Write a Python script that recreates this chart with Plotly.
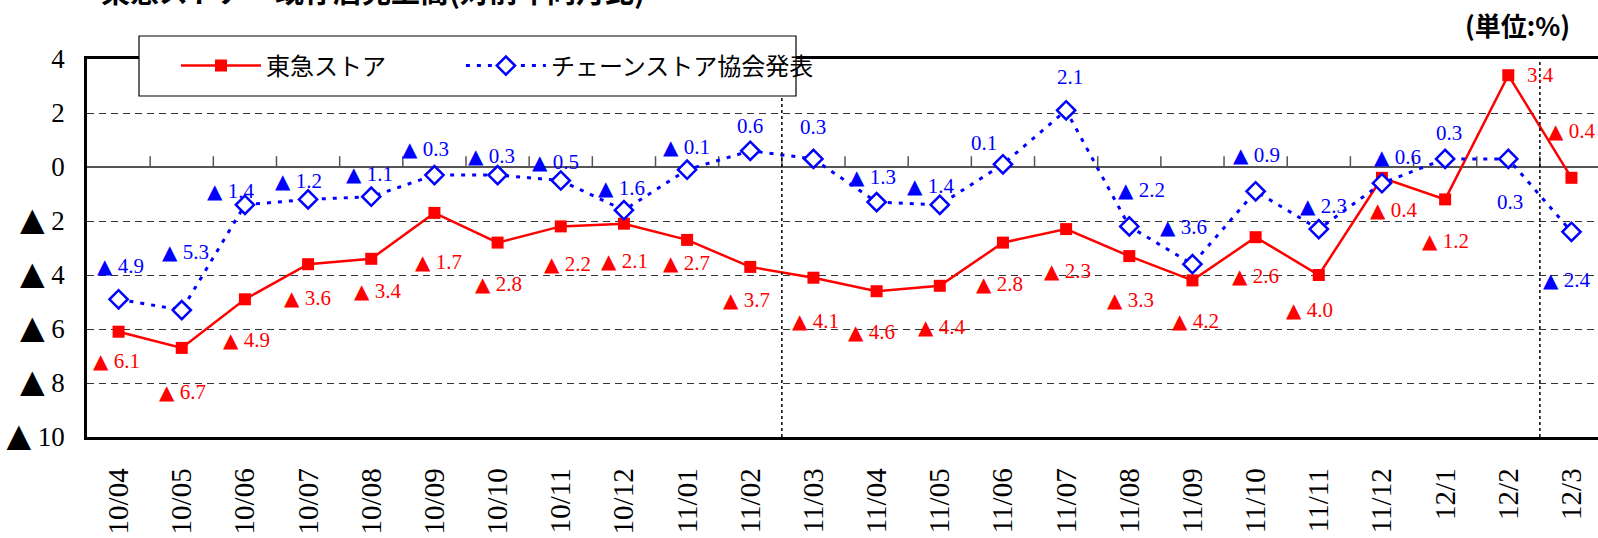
import plotly.graph_objects as go

categories = ["10/04", "10/05", "10/06", "10/07", "10/08", "10/09", "10/10", "10/11", "10/12",
              "11/01", "11/02", "11/03", "11/04", "11/05", "11/06", "11/07", "11/08", "11/09",
              "11/10", "11/11", "11/12", "12/1", "12/2", "12/3"]
tokyu_store = [-6.1, -6.7, -4.9, -3.6, -3.4, -1.7, -2.8, -2.2, -2.1, -2.7, -3.7, -4.1,
               -4.6, -4.4, -2.8, -2.3, -3.3, -4.2, -2.6, -4.0, -0.4, -1.2, 3.4, -0.4]
chain_assoc = [-4.9, -5.3, -1.4, -1.2, -1.1, -0.3, -0.3, -0.5, -1.6, -0.1, 0.6, 0.3,
               -1.3, -1.4, 0.1, 2.1, -2.2, -3.6, -0.9, -2.3, -0.6, 0.3, 0.3, -2.4]
y_ticks = [4, 2, 0, -2, -4, -6, -8, -10]
year_breaks = ["11/02", "12/2"]

series_names = ["東急ストア", "チェーンストア協会発表"]
title_text = "東急ストア・既存店売上高(対前年同月比)"
unit_text = "(単位:%)"

# label placement (pixel offsets from each point; dy positive = downward)
red_dx = [-25, -22, -21, -23, -16, -18, -22, -16, -22, -23, -26, -20, -28, -21, -26, -21, -21, -19, -23, -32, -11, -22, 17, -22]
red_dy = [29, 44, 41, 34, 32, 49, 41, 38, 37, 23, 33, 43, 41, 41, 41, 42, 44, 41, 39, 35, 32, 42, 0, -47]
blue_dx = [-21, -19, -37, -32, -24, -31, -29, -28, -25, -23, 0, 0, -27, -32, -19, 4, -10, -31, -22, -18, -7, 4, 2, -27]
blue_dy = [-33, -58, -14, -18, -23, -26, -19, -19, -22, -23, -25, -32, -25, -19, -21, -33, -36, -37, -36, -23, -26, -26, 43, 48]
TRI_PAD = -3

RED = "#ff0000"
BLUE = "#0000ff"
SERIF = "Liberation Serif"
JP = "Noto Sans CJK JP"
TRI = "<span style='font-family:DejaVu Sans;font-size:{}px'>▲</span>"

# figure geometry (px)
W, H = 1598, 538
ML, MT, MB = 87, 59, 101
PW, PH = W - ML, H - MT - MB


def px_x(p):
    return (p - ML) / PW


def px_y(p):
    return 1 + (MT - p) / PH


def fmt(v):
    return (TRI.format(20) + " " + f"{abs(v):.1f}") if v < 0 else f"{v:.1f}"


def ytick(v):
    return (TRI.format(32) + " " + str(abs(v))) if v < 0 else str(v)


xs = list(range(len(categories)))
fig = go.Figure()

# small tick marks on the zero line between categories
tx, ty = [], []
for i in range(len(categories) - 1):
    tx += [i + 0.5, i + 0.5, None]
    ty += [0, 0.4, None]
fig.add_trace(go.Scatter(x=tx, y=ty, mode="lines", line=dict(color="#555555", width=1.5),
                         showlegend=False, hoverinfo="skip"))

fig.add_trace(go.Scatter(x=xs, y=tokyu_store, name=series_names[0] + "&nbsp;" * 13,
                         mode="lines+markers", line=dict(color=RED, width=2.5),
                         marker=dict(symbol="square", size=12, color=RED)))
fig.add_trace(go.Scatter(x=xs, y=chain_assoc, name=series_names[1], mode="lines+markers",
                         line=dict(color=BLUE, width=3, dash="4px,7px"),
                         marker=dict(symbol="diamond", size=14, color="white",
                                     line=dict(color=BLUE, width=2.5))))

annotations = []
for i, v in enumerate(tokyu_store):
    anchor = "left" if v < 0 or red_dx[i] > 0 else "center"
    pad = TRI_PAD if v < 0 else 0
    annotations.append(dict(x=i, y=v, xref="x", yref="y", text=fmt(v), showarrow=False,
                            xanchor=anchor, yanchor="middle", xshift=red_dx[i] + pad,
                            yshift=-red_dy[i],
                            font=dict(family=SERIF, size=21, color=RED)))
for i, v in enumerate(chain_assoc):
    anchor = "left" if v < 0 else "center"
    pad = TRI_PAD if v < 0 else 0
    annotations.append(dict(x=i, y=v, xref="x", yref="y", text=fmt(v), showarrow=False,
                            xanchor=anchor, yanchor="middle", xshift=blue_dx[i] + pad,
                            yshift=-blue_dy[i],
                            font=dict(family=SERIF, size=21, color=BLUE)))

annotations.append(dict(x=px_x(99), y=px_y(-10), xref="paper", yref="paper",
                        text="<b>" + title_text + "</b>",
                        showarrow=False, xanchor="left", yanchor="middle",
                        font=dict(family=JP, size=29, color="black")))
annotations.append(dict(x=px_x(1572), y=px_y(24), xref="paper", yref="paper", text=unit_text,
                        showarrow=False, xanchor="right", yanchor="middle",
                        font=dict(family=JP, size=26, color="black", weight="bold")))

shapes = []
for b in year_breaks:
    xb = categories.index(b) + 0.5
    shapes.append(dict(type="line", xref="x", yref="paper", x0=xb, x1=xb, y0=0, y1=1,
                       layer="above", line=dict(color="black", width=1.5, dash="dot")))
# legend frame
shapes.append(dict(type="rect", xref="paper", yref="paper",
                   x0=px_x(139), x1=px_x(796), y0=px_y(96), y1=px_y(36),
                   layer="above", fillcolor="white", line=dict(color="black", width=1.2)))

fig.update_layout(
    width=W, height=H,
    margin=dict(l=ML, r=0, t=MT, b=MB, autoexpand=False),
    plot_bgcolor="white", paper_bgcolor="white",
    annotations=annotations, shapes=shapes,
    showlegend=True,
    legend=dict(orientation="h", x=px_x(176), y=px_y(66), xanchor="left", yanchor="middle",
                bgcolor="rgba(0,0,0,0)", borderwidth=0,
                font=dict(family=JP, size=24, color="black"),
                itemwidth=80, itemclick=False),
    xaxis=dict(range=[-0.5, 23.42], tickmode="array", tickvals=xs, ticktext=categories,
               tickangle=-90, ticks="", ticklabelstandoff=17, automargin=False,
               tickfont=dict(family=SERIF, size=29, color="black"),
               showgrid=False, zeroline=False,
               showline=True, linecolor="black", linewidth=2.5, mirror=True),
    yaxis=dict(range=[-10, 4], tickmode="array", tickvals=y_ticks, automargin=False,
               ticktext=[ytick(v) for v in y_ticks], ticks="", ticklabelstandoff=14,
               tickfont=dict(family=SERIF, size=27, color="black"),
               showgrid=True, gridcolor="#333333", gridwidth=1, griddash="7px,5px",
               zeroline=True, zerolinecolor="#555555", zerolinewidth=1.5,
               showline=True, linecolor="black", linewidth=2.5),
)

fig.write_html("out.html", config={"displayModeBar": False},
               post_script="document.body.style.margin='0';")
